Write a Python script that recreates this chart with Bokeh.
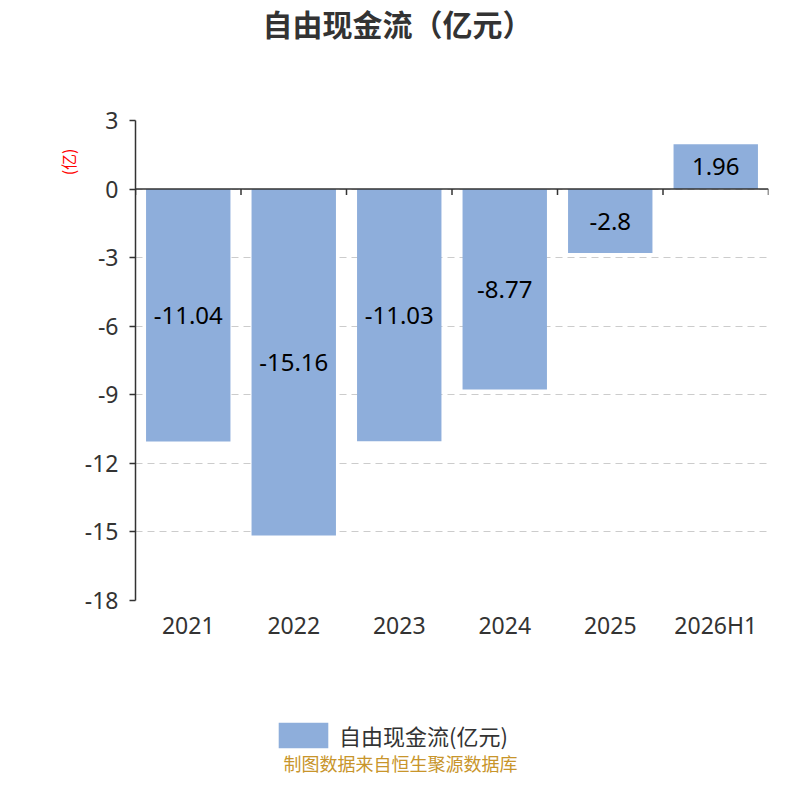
from bokeh.plotting import figure
from bokeh.layouts import column
from bokeh.models import (ColumnDataSource, FactorRange, Range1d, FixedTicker, Span,
                          Label, Legend, LegendItem, Title)
from bokeh.core.properties import value
from bokeh.embed import file_html
from bokeh.resources import INLINE

categories = ["2021", "2022", "2023", "2024", "2025", "2026H1"]
values = [-11.04, -15.16, -11.03, -8.77, -2.8, 1.96]
y_ticks = [3, 0, -3, -6, -9, -12, -15, -18]
series_name = "自由现金流(亿元)"
title_text = "自由现金流（亿元）"
unit_text = "(亿)"
footer_text = "制图数据来自恒生聚源数据库"

BAR = "#8eaedb"
TXT = "#333333"
CJK = "Noto Sans CJK SC"
NUM = "Noto Sans"


def blank(fig):
    fig.outline_line_color = None
    fig.xgrid.grid_line_color = None
    fig.ygrid.grid_line_color = None


src = ColumnDataSource(dict(
    cat=categories,
    val=values,
    mid=[v / 2 for v in values],
    lab=[str(v) for v in values],
))

# ---- title strip ----
p0 = figure(width=800, height=70, x_range=Range1d(0, 1), y_range=Range1d(0, 1),
            output_backend="svg", toolbar_location=None,
            x_axis_type=None, y_axis_type=None, min_border=0)
blank(p0)
p0.add_layout(Label(x=262, y=48, x_units="screen", y_units="screen", text=title_text,
                    text_font=CJK, text_font_size="30px", text_font_style="bold",
                    text_color=TXT, text_align="center", text_baseline="middle"))

# ---- main chart ----
p = figure(
    width=800, height=620,
    x_range=FactorRange(*categories, range_padding=0),
    y_range=Range1d(min(y_ticks), max(y_ticks)),
    output_backend="svg", toolbar_location=None,
    min_border_left=135, min_border_right=32,
    min_border_top=50, min_border_bottom=90,
)
p.outline_line_color = None

bars = p.vbar(x="cat", top="val", bottom=0, width=0.8, source=src,
              fill_color=BAR, line_color=None)

p.text(x="cat", y="mid", text="lab", source=src, text_align="center",
       text_baseline="middle", text_font=value(NUM), text_font_size="24px",
       text_color="black")

# zero axis line with boundary ticks
p.add_layout(Span(location=0, dimension="width", line_color=TXT, line_width=1.5))
n = len(categories)
p.segment(x0=list(range(n + 1)), x1=list(range(n + 1)), y0=[0] * (n + 1),
          y1=[-0.26] * (n + 1), line_color=TXT, line_width=1.5)

xa = p.xaxis[0]
xa.axis_line_color = None
xa.major_tick_line_color = None
xa.minor_tick_line_color = None
xa.major_label_text_font = NUM
xa.major_label_text_font_size = "23px"
xa.major_label_text_color = TXT
xa.major_label_standoff = 2
p.xgrid.grid_line_color = None

ya = p.yaxis[0]
ya.ticker = FixedTicker(ticks=y_ticks)
ya.major_label_overrides = {t: str(t) for t in y_ticks}
ya.axis_line_color = TXT
ya.axis_line_width = 1.5
ya.major_tick_line_color = TXT
ya.major_tick_line_width = 1.5
ya.major_tick_out = 6
ya.major_tick_in = 0
ya.minor_tick_line_color = None
ya.major_label_text_font = NUM
ya.major_label_text_font_size = "23px"
ya.major_label_text_color = TXT
ya.major_label_standoff = 11
p.ygrid.ticker = FixedTicker(ticks=y_ticks)
p.ygrid.grid_line_color = "#cccccc"
p.ygrid.grid_line_dash = "7 5"
p.ygrid.grid_line_width = 1.2

p.add_layout(Title(text=unit_text, align="right", offset=28, standoff=4,
                   text_font=CJK, text_font_size="16px", text_font_style="normal",
                   text_color="red"), "left")

# ---- legend + footer strip ----
p2 = figure(width=800, height=108, x_range=FactorRange(*categories), y_range=Range1d(100, 101),
            output_backend="svg", toolbar_location=None,
            x_axis_type=None, y_axis_type=None, min_border=0)
blank(p2)
swatch = p2.vbar(x="cat", top="val", bottom=0, width=0.8, source=src,
                 fill_color=BAR, line_color=None)
legend = Legend(items=[LegendItem(label=series_name, renderers=[swatch])],
                location=(137, 47), orientation="horizontal",
                label_text_font=CJK, label_text_font_size="22px", label_text_color=TXT,
                glyph_width=62, glyph_height=32, padding=0, margin=0,
                border_line_color=None, background_fill_alpha=0, label_standoff=5)
p2.add_layout(legend, "center")
p2.add_layout(Label(x=265, y=36, x_units="screen", y_units="screen", text=footer_text,
                    text_font=CJK, text_font_size="18px", text_color="#c8952b",
                    text_align="center", text_baseline="middle"))

layout = column(p0, p, p2, spacing=0)
open("out.html", "w").write(file_html(layout, INLINE))
